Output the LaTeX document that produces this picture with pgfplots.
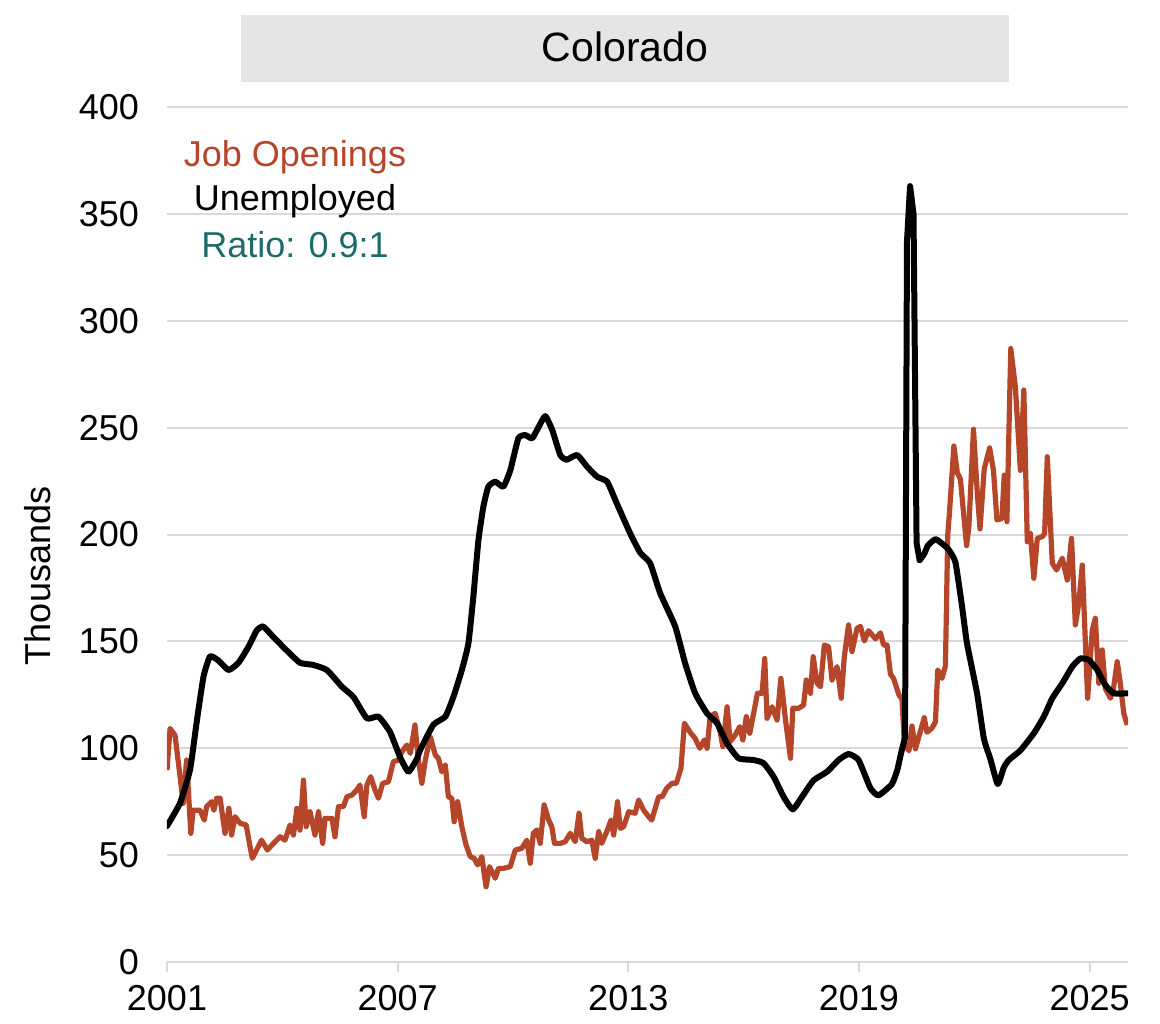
\documentclass[border=0pt]{standalone}
\usepackage{fontspec}
\setmainfont{Liberation Sans}
\usepackage{pgfplots}
\pgfplotsset{compat=1.18}
\definecolor{jobs}{HTML}{B5462A}
\definecolor{ratio}{HTML}{1D6B6B}
\definecolor{gridc}{HTML}{D9D9D9}
\definecolor{titlebg}{HTML}{E5E5E5}

\pgfplotstableread{
x y
2001.00 89.8
2001.08 109.3
2001.21 106
2001.34 86.7
2001.42 74.2
2001.51 94.5
2001.62 60.2
2001.68 71
2001.86 71
2001.97 66.4
2002.03 72.7
2002.16 75
2002.22 71
2002.29 76.6
2002.38 76.6
2002.51 60.2
2002.61 71.9
2002.68 59.4
2002.77 68
2002.90 64.9
2003.06 64.1
2003.16 54
2003.22 48.5
2003.33 52.4
2003.46 57
2003.61 52.4
2003.77 55.5
2003.94 58.6
2004.07 57
2004.20 64.1
2004.29 59.4
2004.38 71.9
2004.46 61.7
2004.55 85.1
2004.62 63.3
2004.72 70.3
2004.85 59.4
2004.94 70.3
2005.05 55.5
2005.11 67.2
2005.29 67.2
2005.37 58.6
2005.46 72.7
2005.59 72.7
2005.68 77.3
2005.81 78.1
2005.94 80.5
2006.02 82.8
2006.13 68
2006.20 82.8
2006.30 86.7
2006.41 80.5
2006.50 76.6
2006.61 83.6
2006.76 84.3
2006.89 93.7
2007.02 94.5
2007.11 98.4
2007.24 101.5
2007.33 97.6
2007.45 110.9
2007.54 94.5
2007.63 83.6
2007.72 94.5
2007.85 105.4
2007.98 96.8
2008.06 95.3
2008.15 89
2008.24 92.2
2008.32 77.3
2008.41 76.6
2008.47 65.6
2008.56 75
2008.67 63.3
2008.78 54.7
2008.89 49.3
2008.99 48.5
2009.08 45.4
2009.19 49.3
2009.30 35.2
2009.39 44.6
2009.54 39.2
2009.62 43.8
2009.75 43.8
2009.93 44.6
2010.06 52.4
2010.23 53.2
2010.36 57
2010.45 46.2
2010.53 60.2
2010.62 61.8
2010.71 55.5
2010.81 73.5
2010.93 66.4
2011.01 63.3
2011.08 55.5
2011.23 55.5
2011.36 56.3
2011.49 60.2
2011.62 56.3
2011.72 69.6
2011.79 57.9
2011.92 56.3
2012.05 57
2012.14 48.5
2012.23 61
2012.31 55.5
2012.44 61
2012.55 66.4
2012.62 59.4
2012.72 75
2012.79 62.5
2012.88 63.3
2013.01 70.3
2013.18 69.6
2013.27 75.8
2013.40 71
2013.53 68
2013.61 66.4
2013.79 77.3
2013.88 77.3
2014.00 81.3
2014.14 83.6
2014.25 83.6
2014.37 90.6
2014.46 111.7
2014.60 107.7
2014.74 104.6
2014.86 100
2014.98 103.9
2015.05 100
2015.13 114.8
2015.26 116.3
2015.39 107.7
2015.46 100.7
2015.57 119.4
2015.65 103.1
2015.78 106.2
2015.90 110.1
2015.98 103.9
2016.07 114.8
2016.16 107
2016.26 116.3
2016.36 125.7
2016.48 125.7
2016.55 142
2016.61 114
2016.74 119.4
2016.87 113.2
2016.97 132.7
2017.09 113.2
2017.22 95.3
2017.28 118.7
2017.43 118.7
2017.56 120.2
2017.63 131.9
2017.74 125.7
2017.81 142.8
2017.91 130.4
2018.00 128.8
2018.10 148.3
2018.21 147.5
2018.30 131.9
2018.43 138.2
2018.54 123.4
2018.62 142.8
2018.73 157.7
2018.82 145.2
2018.95 156.1
2019.04 157
2019.14 150.2
2019.25 155
2019.43 151.2
2019.56 154
2019.64 148.3
2019.73 148.3
2019.82 134.7
2019.90 132.7
2020.04 125
2020.12 123
2020.18 102.6
2020.30 98.8
2020.38 110.4
2020.47 99.7
2020.56 105.5
2020.70 114.3
2020.77 107.5
2020.90 109.4
2020.99 112.3
2021.05 136.6
2021.16 132.7
2021.25 138.5
2021.31 199.7
2021.36 211.4
2021.47 241.4
2021.56 228.8
2021.64 225.9
2021.80 194.8
2021.86 203.6
2021.98 249.2
2022.08 219.1
2022.15 202.6
2022.26 230.7
2022.40 240.5
2022.50 230
2022.59 206.8
2022.72 207.5
2022.78 227.8
2022.85 206
2022.95 287
2023.07 269
2023.20 230
2023.29 267.6
2023.38 196.6
2023.46 200.5
2023.55 179.5
2023.64 198.2
2023.77 199
2023.83 200.5
2023.90 236.4
2024.03 186.5
2024.14 183.4
2024.29 188.9
2024.42 178.7
2024.53 198.2
2024.63 157.7
2024.72 167.8
2024.81 185.7
2024.95 123.4
2025.07 155.3
2025.15 160.8
2025.24 130.4
2025.33 146
2025.41 128
2025.54 123.4
2025.61 126.5
2025.72 140.5
2025.80 130.4
2025.89 116.3
2025.98 110.9
}\openings

\pgfplotstableread{
x y
2001.00 63.6
2001.34 74.4
2001.60 90
2001.77 112
2001.95 133.5
2002.12 143
2002.34 141
2002.60 136.6
2002.86 140
2003.12 147.5
2003.33 155
2003.50 157
2003.77 152
2004.10 146
2004.46 140
2004.80 139
2005.16 136.6
2005.55 128.8
2005.85 124
2006.20 114
2006.50 114.8
2006.80 107.7
2007.06 96
2007.28 89
2007.50 95
2007.58 99
2007.93 111
2008.24 114.8
2008.45 124
2008.67 136.6
2008.84 149
2008.97 171
2009.10 197
2009.23 213
2009.36 222.4
2009.54 224.7
2009.75 222.4
2009.93 230
2010.14 245
2010.32 246.5
2010.50 245
2010.67 250.4
2010.84 255.4
2011.02 249
2011.23 237.2
2011.40 235
2011.67 237.2
2011.93 231.7
2012.19 227
2012.45 224.7
2012.70 214.6
2013.05 200.5
2013.31 191.5
2013.57 186.5
2013.83 172.5
2014.22 157
2014.48 139.7
2014.74 125.7
2015.05 116.3
2015.31 111.7
2015.57 102.3
2015.87 95.3
2016.26 94.5
2016.52 93
2016.78 86.7
2017.04 77.3
2017.28 71.4
2017.52 77.3
2017.82 85
2018.17 89
2018.47 94.5
2018.73 97.3
2018.99 94.5
2019.30 81.3
2019.51 78
2019.86 83.3
2020.00 90
2020.10 98
2020.20 105
2020.25 337
2020.33 363
2020.42 350
2020.50 196
2020.58 188
2020.70 191
2020.80 195
2020.99 197.8
2021.16 195.8
2021.33 193
2021.51 187
2021.68 166.7
2021.81 149.2
2022.07 126
2022.25 104.6
2022.42 94.9
2022.61 83.3
2022.77 91
2022.90 94.5
2023.20 99
2023.55 107
2023.81 114.8
2024.03 123.4
2024.29 130.4
2024.55 138.2
2024.76 142
2024.98 141.3
2025.20 136.6
2025.41 129.6
2025.63 125.7
2025.98 125.7
}\unemployed

\begin{document}
\begin{tikzpicture}
\begin{axis}[
  scale only axis, width=480.5pt, height=427.5pt,
  xmin=2001, xmax=2026, ymin=0, ymax=400,
  xtick={2001,2007,2013,2019,2025},
  ytick={0,50,...,400},
  axis lines*=left,
  axis line style={-, gridc, line width=1pt},
  y axis line style={draw=none},
  tick align=outside,
  major tick length=5pt,
  xtick style={gridc, line width=1pt},
  ytick style={draw=none},
  ymajorgrids,
  major grid style={gridc, line width=1pt},
  tick label style={font=\fontsize{18}{22}\selectfont, black},
  /pgf/number format/assume math mode=true,
  /pgf/number format/1000 sep={},
  xticklabel style={yshift=-3pt},
  yticklabel style={xshift=-5.5pt},
  ylabel=Thousands,
  ylabel style={font=\fontsize{18}{22}\selectfont, at={(axis description cs:-0.1342,0.4515)}, anchor=center},
  clip mode=individual,
  unemp/.style={black, line width=3pt, line join=round, line cap=round},
]
\addplot[jobs, line width=2.6pt, line join=round] table {\openings};
% unemployed: smooth either side of the 2020 spike, straight through it
\addplot[unemp, smooth, tension=0.3, restrict x to domain=2001:2020.21] table {\unemployed};
\addplot[unemp, restrict x to domain=2020.19:2020.59] table {\unemployed};
\addplot[unemp, smooth, tension=0.3, restrict x to domain=2020.57:2026] table {\unemployed};
\node[text=jobs, font=\fontsize{18}{22}\selectfont] at (axis cs:2004.33,376.6) {Job Openings};
\node[text=black, font=\fontsize{18}{22}\selectfont] at (axis cs:2004.33,356) {Unemployed};
\node[text=ratio, font=\fontsize{18}{22}\selectfont] at (axis cs:2004.33,335.4) {Ratio: 0.9:1};
\end{axis}
\begin{scope}[shift={(current axis.south west)}]
\path (-83.5pt,-30.5pt) rectangle (496.5pt,481pt);
\fill[titlebg] (37pt,440pt) rectangle (421pt,473.5pt);
\node[font=\fontsize{20.5}{24}\selectfont] at (229pt,457.5pt) {Colorado};
\end{scope}
\end{tikzpicture}
\end{document}
